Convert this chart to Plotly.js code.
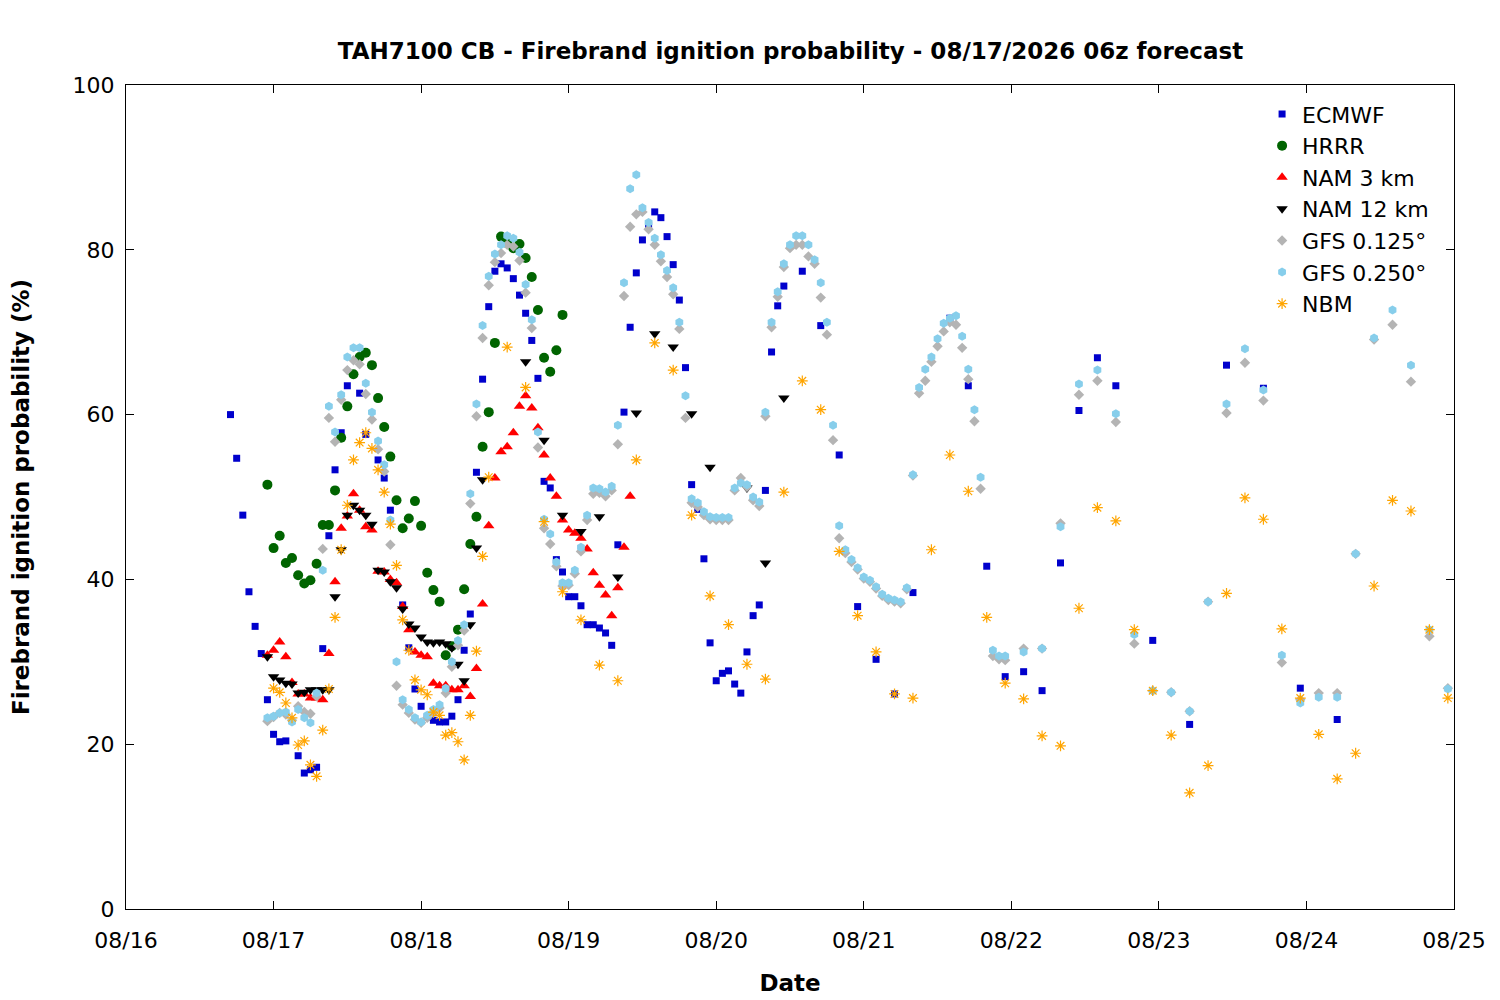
<!DOCTYPE html>
<html>
<head>
<meta charset="utf-8">
<script src="https://cdn.plot.ly/plotly-3.0.1.min.js"></script>
<style>body{margin:0;background:#fff}#chart{width:1500px;height:1000px}</style>
</head>
<body>
<div id="chart"></div>
<script>
// hours since 08/16/2026 00z, values in %
const ecmwfHours = [17,18,19,20,21,22,23,24,25,26,28,29,30,31,32,33,34,35,36,38,39,41,42,43,45,46,47,48,49,50,51,52,53,54,55,56,57,58,59,60,61,62,63,64,65,66,67,68,69,70,71,72,73,74,75,76,77,78,79,80,81,82,83,84,85,86,87,88,89,90,91,92,93,94,95,96,97,98,99,100,101,102,103,104,105,106,107,110,113,116,119,122,125,128,134,137,140,143,146,149,152,155,158,161,167,173,179,185,191,197];
const ecmwfVals = [60,54.7,47.8,38.5,34.3,31,25.4,21.2,20.3,20.4,18.6,16.5,16.9,17.2,31.6,45.3,53.3,57.8,63.5,62.6,57.6,54.5,52.3,48.4,36.9,31.7,26.7,24.6,23.3,22.9,22.7,22.7,23.4,25.4,31.4,35.8,53,64.3,73.1,77.4,78.3,77.8,76.5,74.5,72.3,69,64.4,51.9,51.1,42.4,40.9,37.9,37.9,36.8,34.5,34.5,34.1,33.5,32,44.2,60.3,70.6,77.2,81.2,83,84.6,83.9,81.6,78.2,73.9,65.7,51.5,48.5,42.5,32.3,27.7,28.6,28.9,27.3,26.2,31.2,35.6,36.9,50.8,67.6,73.2,75.6,77.4,70.8,55.1,36.7,30.3,26.1,38.4,71.7,63.5,41.6,28.2,28.8,26.5,42,60.5,66.9,63.5,32.6,22.4,66,63.2,26.8,23];

const hrrrHours = [23,24,25,26,27,28,29,30,31,32,33,34,35,36,37,38,39,40,41,42,43,44,45,46,47,48,49,50,51,52,53,54,55,56,57,58,59,60,61,62,63,64,65,66,67,68,69,70,71];
const hrrrVals = [51.5,43.8,45.3,42,42.6,40.5,39.5,39.9,41.9,46.6,46.6,50.8,57.2,61,64.9,67,67.5,66,62,58.5,54.9,49.6,46.2,47.4,49.5,46.5,40.8,38.7,37.3,30.8,31.9,33.9,38.8,44.3,47.6,56.1,60.3,68.7,81.6,80.8,80.2,80.7,79,76.7,72.7,66.9,65.2,67.8,72.1];

const nam3Hours = [23,24,25,26,27,28,29,30,31,32,33,34,35,36,37,38,39,40,41,42,43,44,45,46,47,48,49,50,51,52,53,54,55,56,57,58,59,60,61,62,63,64,65,66,67,68,69,70,71,72,73,74,75,76,77,78,79,80,81,82];
const nam3Vals = [30.8,31.4,32.4,30.6,27.5,26.1,26.1,25.6,25.6,25.4,31,39.7,46.2,47.7,50.4,48.4,46.4,46,41,40.9,40,39.6,36.7,33.9,31.2,30.8,30.6,27.4,27.1,27.1,26.6,26.6,27.1,25.8,29.2,37,46.5,52.3,55.5,56.1,57.8,61,62.3,60.8,58.4,55.1,52.3,50.1,47.2,46,45.6,45,43.7,40.8,39.3,38.1,35.6,39,43.9,50.1];

const nam12Hours = [23,24,25,26,27,28,29,30,31,32,33,34,35,36,37,38,39,40,41,42,43,44,45,46,47,48,49,50,51,52,53,54,55,56,57,58,65,68,71,74,77,80,83,86,89,92,95,101,104,107];
const nam12Vals = [30.6,28.2,27.8,27.4,27.3,26.2,26.3,26.6,26.6,26.6,26.6,37.9,43.6,47.8,49,48.4,47.8,46.7,41.1,40.9,39.7,39,36.4,34.6,34.1,33,32.4,32.3,32.4,32.2,31.7,29.7,27.7,34.5,43.8,52.1,66.4,56.9,47.8,45.8,47.6,40.3,60.2,69.8,68.2,60.1,53.6,51.1,42,62];

const gfsHours = [23,24,25,26,27,28,29,30,31,32,33,34,35,36,37,38,39,40,41,42,43,44,45,46,47,48,49,50,51,52,53,54,55,56,57,58,59,60,61,62,63,64,65,66,67,68,69,70,71,72,73,74,75,76,77,78,79,80,81,82,83,84,85,86,87,88,89,90,91,92,93,94,95,96,97,98,99,100,101,102,103,104,105,106,107,108,109,110,111,112,113,114,115,116,117,118,119,120,121,122,123,124,125,126,127,128,129,130,131,132,133,134,135,136,137,138,139,141,142,143,146,149,152,155,158,161,164,167,170,173,176,179,182,185,188,191,194,197,200,203,206,209,212,215];
const gfs125Vals = [22.8,23.3,23.8,23.6,22.9,24.6,23.9,23.7,25.8,43.7,59.6,56.7,61.8,65.4,66.6,66.1,62.5,59.4,55.8,53.1,44.2,27.1,24.8,23.8,23,22.6,23.2,23.8,24.4,26.2,29.4,32,33.8,49.2,59.8,69.3,75.7,78.5,79.6,80.6,80.4,78.7,74.8,70.5,56,46.2,44.3,41.6,39.2,39.3,40.7,43.4,47.2,50.4,50.5,50.1,50.8,56.4,74.4,82.8,84.3,84.6,82.5,80.6,78.6,76.7,74.6,70.4,59.6,49.3,48.8,47.8,47.3,47.2,47.2,47.2,50.8,52.3,51.2,49.6,48.9,59.8,70.6,74.3,77.9,80.2,80.6,80.6,79.2,78.3,74.2,69.7,56.9,45,43.2,42.1,41.2,40.1,39.7,38.9,38,37.5,37.3,37.1,38.8,52.6,62.6,64.1,66.4,68.3,70.1,71.2,70.9,68.1,64.3,59.2,51,30.7,30.3,30.2,31.6,31.6,46.8,62.4,64.1,59.1,32.2,26.5,26.3,24,37.3,60.2,66.3,61.7,29.9,25.4,26.2,26.2,43.1,69.1,70.9,64,33.1,26.8];
const gfs250Vals = [23.2,23.4,23.8,23.9,22.7,24.2,23.2,22.6,26.2,41.1,61,57.9,62.4,67,68.1,68.1,63.8,60.3,56.8,53.9,47.2,30,25.4,24.2,23.2,22.7,23.5,24.2,24.8,26.8,30,32.6,34.5,50.4,61.3,70.8,76.8,79.5,80.6,81.7,81.4,79.7,75.8,71.5,57.9,47.3,45.5,42.1,39.6,39.6,41.1,43.9,47.8,51.1,51,50.6,51.3,58.7,76,87.4,89.1,85.1,83.3,81.4,79.4,77.5,75.4,71.2,62.3,49.8,49.3,48.2,47.6,47.5,47.5,47.5,51.1,51.7,51.5,50,49.4,60.3,71.2,74.9,78.3,80.6,81.7,81.7,80.6,78.8,76,71.2,58.7,46.5,43.6,42.4,41.4,40.3,39.9,39.1,38.2,37.7,37.5,37.3,39,52.7,63.3,65.5,67,69.2,71.1,71.7,72,69.5,65.5,60.6,52.4,31.4,30.7,30.7,31.2,31.6,46.4,63.7,65.4,60.1,33.3,26.5,26.3,24,37.3,61.3,68,63,30.8,25,25.7,25.7,43.1,69.3,72.7,66,33.9,26.7];

const nbmHours = [24,25,26,27,28,29,30,31,32,33,34,35,36,37,38,39,40,41,42,43,44,45,46,47,48,49,50,51,52,53,54,55,56,57,58,59,62,65,68,71,74,77,80,83,86,89,92,95,98,101,104,107,110,113,116,119,122,125,128,131,134,137,140,143,146,149,152,155,158,161,164,167,170,173,176,179,182,185,188,191,194,197,200,203,206,209,212,215];
const nbmVals = [26.8,26.3,25,23.2,19.9,20.4,17.5,16.1,21.7,26.7,35.4,43.6,49,54.5,56.6,57.8,55.9,53.3,50.6,46.7,41.7,35.1,31.4,27.8,26.6,26,23.9,23.5,21.1,21.4,20.3,18.1,23.5,31.3,42.8,52.4,68.2,63.3,47,38.5,35.1,29.6,27.7,54.5,68.7,65.4,47.8,38,34.5,29.7,27.9,50.6,64.1,60.6,43.4,35.6,31.2,26.1,25.6,43.6,55.1,50.7,35.4,27.4,25.5,21,19.8,36.5,48.7,47.1,33.9,26.5,21.1,14.1,17.4,38.3,49.9,47.3,34,25.6,21.2,15.8,18.9,39.2,49.6,48.3,33.9,25.6];

const t0 = Date.UTC(2026, 7, 16);
const toDate = (hours) => hours.map((h) => new Date(t0 + h * 3600000).toISOString());

function series(name, hours, vals, symbol, color, size) {
  return {
    x: toDate(hours), y: vals, name, type: "scatter", mode: "markers",
    marker: { symbol, color, size, line: { width: symbol === "asterisk-open" ? 1.2 : 0, color } },
  };
}

const traces = [
  series("ECMWF", ecmwfHours, ecmwfVals, "square", "#0000cc", 7),
  series("HRRR", hrrrHours, hrrrVals, "circle", "#006400", 10),
  series("NAM 3 km", nam3Hours, nam3Vals, "triangle-up", "#ff0000", 10),
  series("NAM 12 km", nam12Hours, nam12Vals, "triangle-down", "#000000", 10),
  series("GFS 0.125°", gfsHours, gfs125Vals, "diamond", "#b4b4b4", 8),
  series("GFS 0.250°", gfsHours, gfs250Vals, "hexagon", "#87ceeb", 9),
  series("NBM", nbmHours, nbmVals, "asterisk-open", "#ffa500", 9),
];

const axisCommon = {
  showgrid: false, zeroline: false, showline: true, linecolor: "#000", linewidth: 1,
  mirror: "ticks", ticks: "inside", ticklen: 8, tickcolor: "#000",
  tickfont: { size: 22, color: "#000" },
};

const layout = {
  width: 1500, height: 1000,
  margin: { l: 126, r: 46, t: 85, b: 91 },
  paper_bgcolor: "#fff", plot_bgcolor: "#fff",
  font: { family: "DejaVu Sans", color: "#000" },
  title: { text: "<b>TAH7100 CB - Firebrand ignition probability - 08/17/2026 06z forecast</b>", x: 0.527, y: 0.957, font: { size: 23 } },
  xaxis: Object.assign({}, axisCommon, {
    type: "date", range: [new Date(t0).toISOString(), new Date(t0 + 9 * 86400000).toISOString()],
    dtick: 86400000, tickformat: "%m/%d", ticklabelstandoff: 12,
    title: { text: "<b>Date</b>", font: { size: 23 }, standoff: 22 },
  }),
  yaxis: Object.assign({}, axisCommon, {
    range: [0, 100], dtick: 20, ticklabelstandoff: 6,
    title: { text: "<b>Firebrand ignition probability (%)</b>", font: { size: 23 }, standoff: 36 },
  }),
  legend: {
    x: 0.985, y: 0.99, xanchor: "right", yanchor: "top", bgcolor: "rgba(0,0,0,0)",
    font: { size: 22 }, tracegroupgap: 0, itemwidth: 30,
  },
};

Plotly.newPlot("chart", traces, layout, { staticPlot: true });
</script>
</body>
</html>
